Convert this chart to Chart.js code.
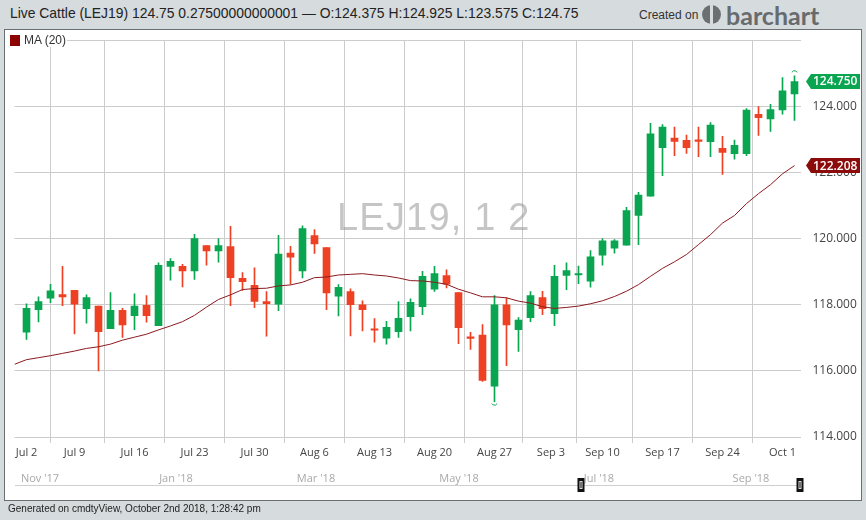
<!DOCTYPE html>
<html>
<head>
<meta charset="utf-8">
<title>LEJ19</title>
<script src="https://cdn.jsdelivr.net/npm/chart.js@4"></script>
<style>
    html, body { margin: 0; padding: 0; }
    body { width: 866px; height: 520px; background: #d6dbde; position: relative; overflow: hidden; font-family: "Liberation Sans", sans-serif; }
    #panel { position: absolute; left: 4px; top: 29px; width: 856px; height: 470px; background: #fff; border: 1px solid #6a6f73; }
    canvas { position: absolute; left: 0; top: 0; }
    .txt { position: absolute; white-space: nowrap; }
    #title { left: 10px; top: 5px; font-size: 13.9px; line-height: 17px; color: #222; }
    #created { left: 639px; top: 8px; font-size: 12px; line-height: 15px; color: #333; }
    #logoIcon { position: absolute; left: 702px; top: 5px; width: 19px; height: 19px; border-radius: 50%; background: #6b6f72; }
    #logoIcon i { position: absolute; left: 8px; top: 0; width: 3px; height: 19px; background: #d6dbde; }
    #logo { left: 726px; top: 0; font-family: Lato, sans-serif; font-weight: 700; font-size: 25px; line-height: 30px; color: #676b6e; }
    #legend { left: 9px; top: 34px; height: 13px; background: #fff; padding-right: 1px; font-size: 12px; line-height: 13px; color: #333; }
    #legend b { display: inline-block; width: 10px; height: 11px; margin: 1px 4px 0 1px; background: #8b0000; vertical-align: top; }
    #footer { left: 8px; top: 503px; font-size: 10px; line-height: 12px; color: #222; }
    .nav { top: 470px; font-family: "Open Sans", sans-serif; font-size: 11px; line-height: 15px; color: #a9a9a9; transform: translateX(-50%); }
    #navLine { position: absolute; left: 15px; top: 485px; width: 785px; height: 1px; background: #cfcfcf; }
    .handle { position: absolute; top: 478px; width: 7px; height: 14px; background: #111; transform: translateX(-50%); }
    .handle i { position: absolute; left: 2px; top: 3px; width: 3px; height: 8px; box-sizing: border-box; border: 1px solid #ddd; }
</style>
</head>
<body>
<div id="panel"></div>
<div class="txt" id="title">Live Cattle (LEJ19) 124.75 0.27500000000001 — O:124.375 H:124.925 L:123.575 C:124.75</div>
<div class="txt" id="created">Created on</div>
<div id="logoIcon"><i></i></div>
<div class="txt" id="logo">barchart</div>
<canvas id="chart" width="866" height="520"></canvas>
<div class="txt" id="legend"><b></b>MA (20)</div>
<div id="navLine"></div>
<div class="txt" id="footer">Generated on cmdtyView, October 2nd 2018, 1:28:42 pm</div>

<script>
// first entry is only there for the start of the MA line, no candle that day
const dates = ['Jun 29', 'Jul 2', 'Jul 3', 'Jul 5', 'Jul 6', 'Jul 9', 'Jul 10', 'Jul 11', 'Jul 12', 'Jul 13',
    'Jul 16', 'Jul 17', 'Jul 18', 'Jul 19', 'Jul 20', 'Jul 23', 'Jul 24', 'Jul 25', 'Jul 26', 'Jul 27',
    'Jul 30', 'Jul 31', 'Aug 1', 'Aug 2', 'Aug 3', 'Aug 6', 'Aug 7', 'Aug 8', 'Aug 9', 'Aug 10',
    'Aug 13', 'Aug 14', 'Aug 15', 'Aug 16', 'Aug 17', 'Aug 20', 'Aug 21', 'Aug 22', 'Aug 23', 'Aug 24',
    'Aug 27', 'Aug 28', 'Aug 29', 'Aug 30', 'Aug 31', 'Sep 4', 'Sep 5', 'Sep 6', 'Sep 7', 'Sep 10',
    'Sep 11', 'Sep 12', 'Sep 13', 'Sep 14', 'Sep 17', 'Sep 18', 'Sep 19', 'Sep 20', 'Sep 21', 'Sep 24',
    'Sep 25', 'Sep 26', 'Sep 27', 'Sep 28', 'Oct 1', 'Oct 2'];

const opens = [null, 117.17, 117.85, 118.20, 118.31, 118.44, 117.88, 117.96, 117.28, 117.83,
    117.67, 117.98, 117.37, 119.16, 119.16, 119.02, 119.79, 119.63, 119.76, 118.80,
    118.59, 118.10, 118.02, 119.56, 119.02, 120.09, 119.73, 118.26, 118.40, 118.00,
    117.25, 116.99, 117.19, 117.64, 117.94, 118.47, 118.88, 118.37, 117.03, 117.08,
    115.54, 118.00, 117.25, 117.61, 118.22, 117.73, 118.89, 118.90, 118.71, 119.50,
    119.71, 119.80, 120.70, 121.28, 122.75, 123.04, 122.97, 122.98, 122.93, 122.73,
    122.57, 122.57, 123.76, 123.62, 123.89, 124.375];
const highs = [null, 118.03, 118.24, 118.62, 119.16, 118.44, 118.30, 117.96, 118.37, 117.89,
    118.33, 118.28, 119.27, 119.40, 119.22, 120.13, 119.79, 120.00, 120.37, 118.97,
    119.12, 118.40, 120.10, 119.77, 120.39, 120.27, 119.73, 118.61, 118.48, 118.12,
    117.58, 117.50, 118.10, 118.18, 119.01, 119.16, 119.06, 118.37, 117.17, 117.40,
    118.28, 118.21, 117.61, 118.40, 118.41, 119.19, 119.27, 119.17, 119.64, 120.00,
    119.97, 120.95, 121.40, 123.49, 123.45, 123.37, 123.13, 123.37, 123.51, 123.09,
    122.98, 123.93, 123.99, 124.06, 124.87, 124.925];
const lows = [null, 116.95, 117.48, 118.06, 117.97, 117.12, 117.44, 116.00, 117.28, 117.01,
    117.25, 117.47, 117.37, 118.74, 118.54, 118.77, 119.20, 119.29, 117.97, 118.43,
    117.91, 117.05, 117.82, 118.62, 118.81, 119.55, 117.85, 117.66, 117.06, 117.21,
    116.87, 116.81, 117.01, 117.21, 117.70, 118.40, 118.51, 116.82, 116.65, 115.68,
    115.07, 116.16, 116.59, 117.49, 117.70, 117.37, 118.46, 118.64, 118.53, 119.20,
    119.56, 119.80, 119.82, 121.28, 121.90, 122.51, 122.58, 122.48, 122.48, 121.94,
    122.40, 122.51, 123.12, 123.24, 123.76, 123.575];
const closes = [null, 117.89, 118.10, 118.42, 118.24, 118.02, 118.22, 117.19, 117.83, 117.39,
    117.96, 117.67, 119.19, 119.31, 119.02, 120.00, 119.63, 119.79, 118.82, 118.70,
    118.10, 118.03, 119.53, 119.44, 120.30, 119.84, 118.36, 118.53, 118.00, 117.85,
    117.23, 117.32, 117.59, 118.07, 118.86, 118.94, 118.62, 117.31, 116.98, 115.71,
    118.00, 117.39, 117.54, 118.28, 117.88, 118.86, 119.03, 118.93, 119.45, 119.93,
    119.93, 120.85, 121.32, 123.17, 123.37, 122.94, 122.75, 122.94, 123.43, 122.61,
    122.82, 123.89, 123.66, 123.90, 124.47, 124.75];
const maValues = [116.20, 116.34, 116.40, 116.46, 116.53, 116.60, 116.68, 116.73, 116.81, 116.93,
    117.02, 117.11, 117.24, 117.36, 117.49, 117.68, 117.93, 118.16, 118.30, 118.46,
    118.49, 118.50, 118.57, 118.60, 118.68, 118.82, 118.84, 118.90, 118.92, 118.94,
    118.90, 118.87, 118.81, 118.73, 118.72, 118.68, 118.62, 118.47, 118.36, 118.24,
    118.24, 118.21, 118.11, 118.05, 117.94, 117.89, 117.92, 117.96, 118.03, 118.12,
    118.25, 118.41, 118.61, 118.86, 119.10, 119.30, 119.52, 119.82, 120.12, 120.47,
    120.70, 121.06, 121.36, 121.63, 121.96, 122.208];

const xTickLabels = ['Jul 2', 'Jul 9', 'Jul 16', 'Jul 23', 'Jul 30', 'Aug 6', 'Aug 13', 'Aug 20', 'Aug 27',
    'Sep 3', 'Sep 10', 'Sep 17', 'Sep 24', 'Oct 1'];
const xTickPositions = [1, 5, 10, 15, 20, 25, 30, 35, 40, 44.7, 49, 54, 59, 64];
const yTicks = [114, 116, 118, 120, 122, 124, 126];

const navLabels = ["Nov '17", "Jan '18", "Mar '18", "May '18", "Jul '18", "Sep '18"];
const navCenters = [40, 176, 316, 459, 599, 751];
const navHandles = [581, 800];

const GREEN = '#0aa550';
const RED = '#ee4124';
const MA_RED = '#8b1a1f';

navLabels.forEach((label, i) => {
    const el = document.createElement('div');
    el.className = 'txt nav';
    el.style.left = navCenters[i] + 'px';
    el.textContent = label;
    document.body.appendChild(el);
});
navHandles.forEach(x => {
    const el = document.createElement('div');
    el.className = 'handle';
    el.style.left = x + 'px';
    el.innerHTML = '<i></i>';
    document.body.appendChild(el);
});

const candleIdx = dates.map((d, i) => i).filter(i => opens[i] !== null);
const candleColors = candleIdx.map(i => closes[i] >= opens[i] ? GREEN : RED);

// watermark goes under the candles, price flags and the hi/lo arcs on top
const overlay = {
    id: 'overlay',
    beforeDatasetsDraw(chart) {
        const ctx = chart.ctx;
        ctx.save();
        ctx.font = '38px "Liberation Sans"';
        ctx.letterSpacing = '1.2px';
        ctx.fillStyle = 'rgba(150, 150, 150, 0.55)';
        ctx.textAlign = 'left';
        ctx.textBaseline = 'alphabetic';
        ctx.fillText('LEJ19, 1 2', 337, 230);
        ctx.restore();
    },
    afterDraw(chart) {
        const ctx = chart.ctx;
        const xs = chart.scales.x;
        const ys = chart.scales.y;
        const last = dates.length - 1;

        drawFlag(ctx, ys.getPixelForValue(closes[last]), closes[last].toFixed(3), GREEN);
        drawFlag(ctx, ys.getPixelForValue(maValues[last]), maValues[last].toFixed(3), '#8b0a0a');

        // little arcs marking the highest high and lowest low on view
        const hiVal = Math.max(...highs.filter(v => v !== null));
        const loVal = Math.min(...lows.filter(v => v !== null));
        ctx.save();
        ctx.strokeStyle = GREEN;
        ctx.lineWidth = 1;
        ctx.beginPath();
        ctx.arc(xs.getPixelForValue(highs.indexOf(hiVal)), ys.getPixelForValue(hiVal) - 2, 3, Math.PI * 1.15, Math.PI * 1.85);
        ctx.stroke();
        ctx.beginPath();
        ctx.arc(xs.getPixelForValue(lows.indexOf(loVal)), ys.getPixelForValue(loVal) + 0.5, 3, Math.PI * 0.15, Math.PI * 0.85);
        ctx.stroke();
        ctx.restore();
    }
};

function drawFlag(ctx, y, text, color) {
    ctx.save();
    ctx.fillStyle = color;
    ctx.beginPath();
    ctx.moveTo(806, y);
    ctx.lineTo(811, y - 7.5);
    ctx.lineTo(860, y - 7.5);
    ctx.lineTo(860, y + 7.5);
    ctx.lineTo(811, y + 7.5);
    ctx.closePath();
    ctx.fill();
    ctx.fillStyle = '#fff';
    ctx.font = '600 12px "Open Sans"';
    ctx.textAlign = 'left';
    ctx.textBaseline = 'middle';
    ctx.fillText(text, 813, y + 0.5);
    ctx.restore();
}

new Chart(document.getElementById('chart').getContext('2d'), {
    type: 'bar',
    data: {
        datasets: [
            {
                type: 'line',
                label: 'MA (20)',
                data: maValues.map((v, i) => ({ x: i, y: v })),
                borderColor: MA_RED,
                borderWidth: 1,
                pointRadius: 0,
                tension: 0,
                order: 1
            },
            {
                label: 'Bodies',
                data: candleIdx.map(i => ({ x: i, y: [opens[i], closes[i]] })),
                backgroundColor: candleColors,
                barThickness: 7,
                minBarLength: 1.5,
                grouped: false,
                order: 2
            },
            {
                label: 'Wicks',
                data: candleIdx.map(i => ({ x: i, y: [lows[i], highs[i]] })),
                backgroundColor: candleColors,
                barThickness: 1,
                grouped: false,
                order: 3
            }
        ]
    },
    options: {
        responsive: false,
        animation: false,
        layout: { padding: { left: 14.5, top: 40.2, right: 0, bottom: 0 } },
        plugins: { legend: { display: false }, tooltip: { enabled: false } },
        scales: {
            x: {
                type: 'linear',
                offset: false,
                min: 0,
                max: 65.5,
                afterBuildTicks: axis => { axis.ticks = xTickPositions.map(v => ({ value: v })); },
                afterFit: axis => { axis.height = 77; axis.paddingLeft = 0; axis.paddingRight = 0; },
                grid: { color: '#cccccc', drawTicks: false },
                border: { display: false },
                ticks: {
                    autoSkip: false,
                    maxRotation: 0,
                    padding: 3,
                    color: '#444',
                    font: { family: 'Open Sans', size: 11 },
                    callback: (value, index) => xTickLabels[index]
                }
            },
            y: {
                position: 'right',
                min: 113.82,
                max: 126,
                afterBuildTicks: axis => { axis.ticks = yTicks.map(v => ({ value: v })); },
                afterFit: axis => { axis.width = 65.5; axis.paddingTop = 0; axis.paddingBottom = 0; },
                grid: { color: '#cccccc', drawTicks: false },
                border: { display: false },
                ticks: {
                    padding: 12,
                    color: '#444',
                    font: { family: 'Open Sans', size: 12 },
                    callback: value => value === 126 ? '' : value.toFixed(3)
                }
            }
        }
    },
    plugins: [overlay]
});
</script>
</body>
</html>
